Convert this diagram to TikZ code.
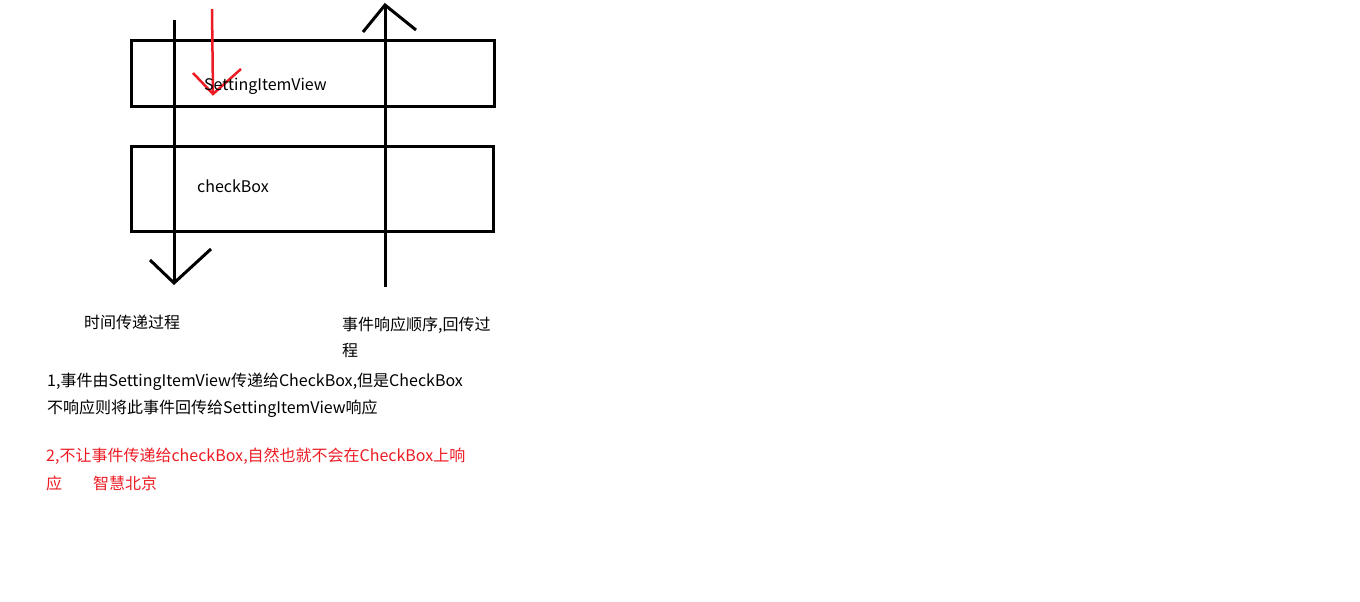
\documentclass[tikz,border=0pt]{standalone}
\usepackage{fontspec}
\setmainfont{Noto Sans CJK SC}
\definecolor{paintred}{HTML}{ED1C24}
\begin{document}
\begin{tikzpicture}[x=1pt,y=-1pt,
  blk/.style={line width=3pt,black},
  redl/.style={line width=2.5pt,paintred},
  txt/.style={anchor=west,inner sep=0pt,font=\fontsize{16}{19}\selectfont},
  rtxt/.style={txt,text=paintred}]
\useasboundingbox (0,0) rectangle (1360,602);
\fill[white] (0,0) rectangle (1360,602);
% boxes
\node[draw=black,line width=3pt,minimum width=363pt,minimum height=65pt,inner sep=0pt] (sv) at (312.5,73.5) {};
\node[draw=black,line width=3pt,minimum width=362pt,minimum height=85pt,inner sep=0pt] (cb) at (312,188.5) {};
% left down arrow
\coordinate (ltop) at (174,20);
\coordinate (lbot) at (174,283);
\draw[blk] (ltop) -- (lbot);
\draw[blk] (150,260) -- (lbot) -- (211,249);
% right up arrow
\coordinate (rbot) at (385,287);
\coordinate (rtop) at (385,5);
\draw[blk] (rbot) -- (rtop);
\draw[blk] (363,32) -- (rtop) -- (416,30);
% red arrow
\coordinate (rdtop) at (212,9);
\coordinate (rdbot) at (213,94);
\draw[redl] (rdtop) -- (rdbot);
\draw[redl] (193,73) -- (rdbot) -- (241,69);
% labels
\node[txt] (t1) at (204,86) {SettingItemView};
\node[txt] (t2) at (197,186) {checkBox};
\node[txt] (t3) at (84,322) {时间传递过程};
\node[txt] (t4) at (342,325) {事件响应顺序,回传过};
\node[txt] (t5) at (342,351) {程};
\node[txt] (t6) at (47,382) {1,事件由SettingItemView传递给CheckBox,但是CheckBox};
\node[txt] (t7) at (47,409) {不响应则将此事件回传给SettingItemView响应};
\node[rtxt] (t8) at (46,456) {2,不让事件传递给checkBox,自然也就不会在CheckBox上响};
\node[rtxt] (t9) at (46,483) {应};
\node[rtxt] (t10) at (93,483) {智慧北京};
\end{tikzpicture}
\end{document}
